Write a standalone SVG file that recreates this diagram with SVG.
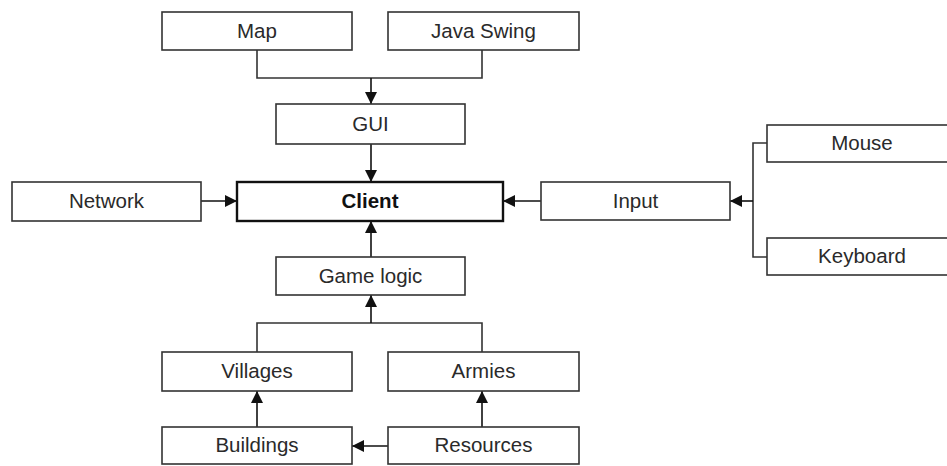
<svg xmlns="http://www.w3.org/2000/svg" width="947" height="466" viewBox="0 0 947 466">
<style>
.box{fill:#fff;stroke:#333;stroke-width:1.6}
.main{fill:#fff;stroke:#111;stroke-width:2.4}
.lbl{font-family:"Liberation Sans",Arial,sans-serif;font-size:20.5px;fill:#2a2a2a;text-anchor:middle}
.bold{font-weight:bold;fill:#111}
.ln{fill:none;stroke:#333;stroke-width:1.6}
.ar{fill:none;stroke:#111;stroke-width:1.6;marker-end:url(#ah)}
</style>
<defs>
<marker id="ah" markerUnits="userSpaceOnUse" markerWidth="12" markerHeight="12" viewBox="0 0 12 12" refX="12" refY="6" orient="auto">
<path d="M0,0 L12,6 L0,12 Z" fill="#111"/>
</marker>
</defs>
<rect width="947" height="466" fill="#fff"/>
<g id="connectors">
<path class="ln" d="M257,50 V78 H482 V50"/>
<path class="ar" d="M371,78 V104"/>
<path class="ar" d="M371,144 V182"/>
<path class="ar" d="M201,201 H237"/>
<path class="ar" d="M541,201 H503"/>
<path class="ln" d="M767,143 H753 V257 H767"/>
<path class="ar" d="M753,201 H730"/>
<path class="ar" d="M371,257 V221"/>
<path class="ln" d="M257,352 V323 H482 V352"/>
<path class="ar" d="M371,323 V295"/>
<path class="ar" d="M257,427 V391"/>
<path class="ar" d="M482,427 V391"/>
<path class="ar" d="M388,446 H352"/>
</g>
<g id="map"><rect class="box" x="162" y="12" width="190" height="38"/><text class="lbl" x="257" y="38">Map</text></g>
<g id="javaswing"><rect class="box" x="388" y="12" width="191" height="38"/><text class="lbl" x="483.5" y="38">Java Swing</text></g>
<g id="gui"><rect class="box" x="276" y="104" width="189" height="40"/><text class="lbl" x="370.5" y="131">GUI</text></g>
<g id="network"><rect class="box" x="12" y="182" width="189" height="39"/><text class="lbl" x="106.5" y="208">Network</text></g>
<g id="client"><rect class="main" x="237" y="182" width="266" height="39"/><text class="lbl bold" x="370" y="208">Client</text></g>
<g id="input"><rect class="box" x="541" y="182" width="189" height="38"/><text class="lbl" x="635.5" y="208">Input</text></g>
<g id="mouse"><rect class="box" x="767" y="125" width="190" height="37"/><text class="lbl" x="862" y="150">Mouse</text></g>
<g id="keyboard"><rect class="box" x="767" y="238" width="190" height="37"/><text class="lbl" x="862" y="263">Keyboard</text></g>
<g id="gamelogic"><rect class="box" x="276" y="257" width="189" height="38"/><text class="lbl" x="370.5" y="283">Game logic</text></g>
<g id="villages"><rect class="box" x="162" y="352" width="190" height="39"/><text class="lbl" x="257" y="378">Villages</text></g>
<g id="armies"><rect class="box" x="388" y="352" width="191" height="39"/><text class="lbl" x="483.5" y="378">Armies</text></g>
<g id="buildings"><rect class="box" x="162" y="427" width="190" height="37"/><text class="lbl" x="257" y="452">Buildings</text></g>
<g id="resources"><rect class="box" x="388" y="427" width="191" height="37"/><text class="lbl" x="483.5" y="452">Resources</text></g>
</svg>
